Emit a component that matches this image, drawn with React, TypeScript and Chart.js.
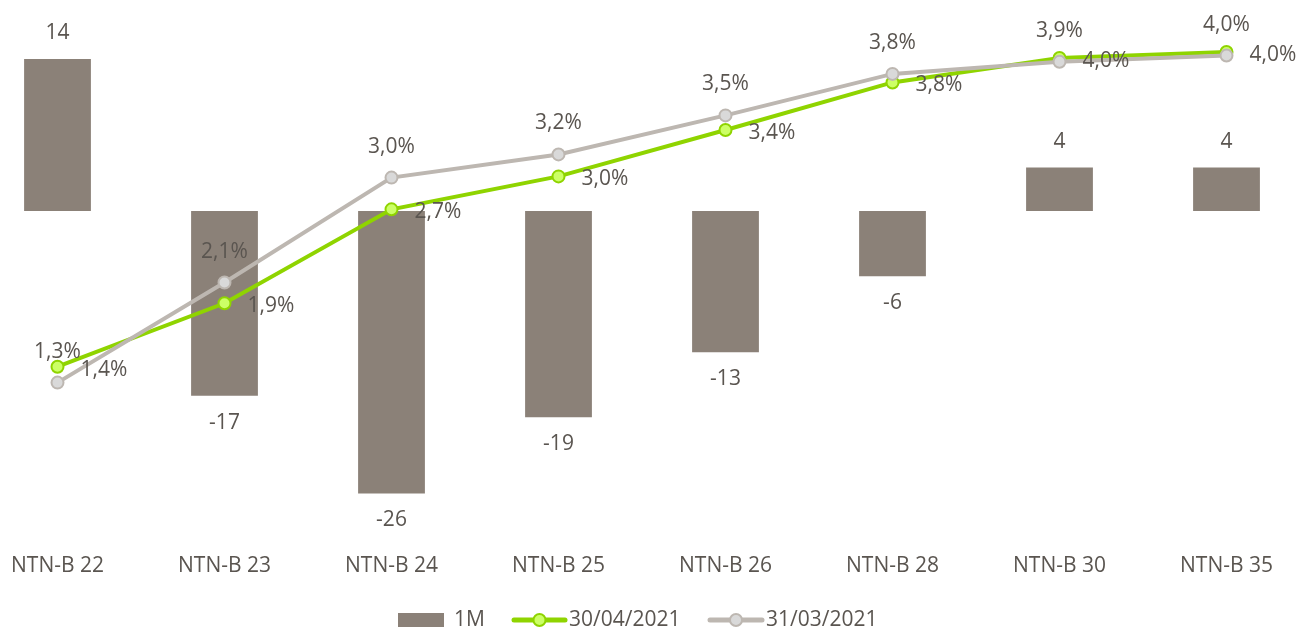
import React, { useEffect, useRef } from "react";
import { Chart, registerables } from "chart.js";

Chart.register(...registerables);

const categories = ["NTN-B 22", "NTN-B 23", "NTN-B 24", "NTN-B 25", "NTN-B 26", "NTN-B 28", "NTN-B 30", "NTN-B 35"];
const bar1M = [14, -17, -26, -19, -13, -6, 4, 4];
const yield30Apr = [1.42, 1.94, 2.71, 2.98, 3.36, 3.75, 3.95, 4.0];
const yield31Mar = [1.29, 2.11, 2.97, 3.16, 3.48, 3.82, 3.92, 3.97];
const legendLabels = ["1M", "30/04/2021", "31/03/2021"];

const FONT = "'Open Sans', 'DejaVu Sans', sans-serif";
const FS = 21;
const TEXT = "#5A5550";
const BAR = "#8B8178";
const GREEN = "#8FD400";
const GREEN_FILL = "#CCFF66";
const GRAY = "#BDB7B1";
const GRAY_FILL = "#D9D9D9";
const SHIFT = 26;

const fmtPct = (v: number) => v.toFixed(1).replace(".", ",") + "%";

const labelPlugin = {
  id: "labels",
  afterDatasetsDraw(chart: any) {
    const ctx = chart.ctx;
    ctx.save();
    ctx.font = `${FS}px ${FONT}`;
    ctx.fillStyle = TEXT;
    ctx.textBaseline = "middle";
    const barMeta = chart.getDatasetMeta(0);
    barMeta.data.forEach((el: any, i: number) => {
      const v = bar1M[i];
      ctx.textAlign = "center";
      const y = v >= 0 ? el.y - 26 : el.y + 27;
      ctx.fillText(String(v), el.x, y);
    });
    const gMeta = chart.getDatasetMeta(1);
    gMeta.data.forEach((el: any, i: number) => {
      ctx.textAlign = "left";
      ctx.fillText(fmtPct(yield30Apr[i]), el.x + 23, el.y + 3);
    });
    const rMeta = chart.getDatasetMeta(2);
    rMeta.data.forEach((el: any, i: number) => {
      ctx.textAlign = "center";
      ctx.fillText(fmtPct(yield31Mar[i]), el.x, el.y - 31);
    });
    ctx.restore();
  },
  afterDraw(chart: any) {
    const ctx = chart.ctx;
    ctx.save();
    ctx.font = `${FS}px ${FONT}`;
    ctx.fillStyle = TEXT;
    ctx.textBaseline = "middle";
    ctx.textAlign = "left";
    const y = 620;
    ctx.fillStyle = BAR;
    ctx.fillRect(398 + SHIFT, y - 7, 46, 14);
    ctx.fillStyle = TEXT;
    ctx.fillText(legendLabels[0], 454 + SHIFT, y);
    const drawLine = (x0: number, x1: number, col: string, fill: string, label: string) => {
      ctx.strokeStyle = col;
      ctx.lineWidth = 5;
      ctx.lineCap = "round";
      ctx.beginPath();
      ctx.moveTo(x0 + SHIFT, y);
      ctx.lineTo(x1 + SHIFT, y);
      ctx.stroke();
      ctx.beginPath();
      ctx.arc((x0 + x1) / 2 + SHIFT, y, 6, 0, Math.PI * 2);
      ctx.fillStyle = fill;
      ctx.fill();
      ctx.lineWidth = 2;
      ctx.stroke();
      ctx.fillStyle = TEXT;
      ctx.fillText(label, x1 + 4 + SHIFT, y);
    };
    drawLine(514, 565, GREEN, GREEN_FILL, legendLabels[1]);
    drawLine(710, 762, GRAY, GRAY_FILL, legendLabels[2]);
    ctx.restore();
  },
};

export default function App() {
  const ref = useRef<HTMLCanvasElement>(null);
  useEffect(() => {
    if (!ref.current) return;
    const chart = new Chart(ref.current, {
      type: "bar",
      data: {
        labels: categories,
        datasets: [
          {
            type: "bar",
            label: legendLabels[0],
            data: bar1M,
            backgroundColor: BAR,
            barPercentage: 0.4,
            categoryPercentage: 1,
            yAxisID: "yBar",
            order: 3,
          } as any,
          {
            type: "line",
            label: legendLabels[1],
            data: yield30Apr,
            borderColor: GREEN,
            borderWidth: 4,
            pointRadius: 6,
            pointBackgroundColor: GREEN_FILL,
            pointBorderColor: GREEN,
            pointBorderWidth: 2,
            tension: 0,
            yAxisID: "yLine",
            order: 2,
          },
          {
            type: "line",
            label: legendLabels[2],
            data: yield31Mar,
            borderColor: GRAY,
            borderWidth: 4,
            pointRadius: 6,
            pointBackgroundColor: GRAY_FILL,
            pointBorderColor: GRAY,
            pointBorderWidth: 2,
            tension: 0,
            yAxisID: "yLine",
            order: 1,
          },
        ],
      },
      options: {
        animation: false,
        responsive: false,
        maintainAspectRatio: false,
        layout: { autoPadding: false, padding: { top: 8, bottom: 53, left: 0, right: 0 } },
        plugins: { legend: { display: false }, tooltip: { enabled: false } },
        scales: {
          x: {
            display: true,
            grid: { display: false, drawTicks: false },
            border: { display: false },
            ticks: { font: { size: FS, family: FONT }, color: TEXT, padding: 13, maxRotation: 0 },
            afterFit: (scale: any) => {
              scale.paddingLeft = 0;
              scale.paddingRight = 0;
              scale.height = 37;
            },
          },
          yBar: { display: false, min: -30.29, max: 18.69 },
          yLine: { display: false, min: 0, max: 4.36 },
        },
      },
      plugins: [labelPlugin],
    });
    return () => chart.destroy();
  }, []);
  return (
    <div style={{ position: "fixed", left: 0, top: 0, width: 1298, height: 630, overflow: "hidden", background: "#fff" }}>
      <div style={{ position: "absolute", left: -SHIFT, top: 0, width: 1336, height: 630 }}>
        <canvas ref={ref} width={1336} height={630} style={{ display: "block" }} />
      </div>
    </div>
  );
}
